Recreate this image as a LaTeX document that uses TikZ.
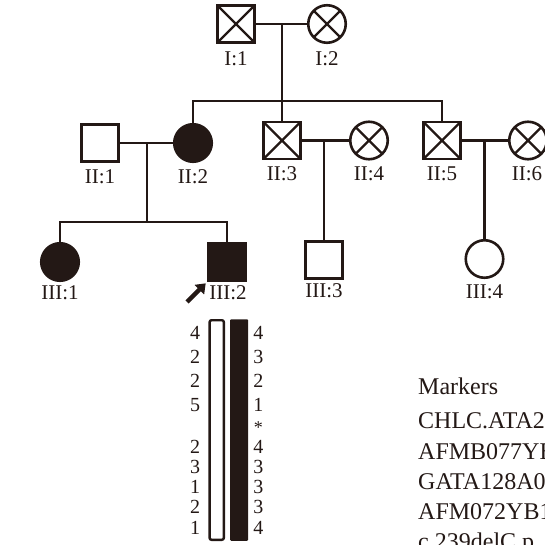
\documentclass[tikz,border=0pt]{standalone}
\usepackage{fontspec}
\setmainfont{Liberation Serif}
\usetikzlibrary{arrows.meta}
\definecolor{ink}{RGB}{35,24,21}
\tikzset{
  male/.style={rectangle, draw=ink, minimum size=37pt, inner sep=0pt, line width=2.6pt},
  female/.style={circle, draw=ink, minimum size=37.5pt, inner sep=0pt, line width=2.6pt},
  crossed/.style={path picture={\draw[ink, line width=2.2pt]
      (path picture bounding box.north west) -- (path picture bounding box.south east)
      (path picture bounding box.north east) -- (path picture bounding box.south west);}},
  affected/.style={fill=ink},
  lbl/.style={font=\fontsize{21}{21}\selectfont, text=ink, inner sep=0pt},
  hap/.style={font=\fontsize{20}{20}\selectfont, text=ink, inner sep=0pt},
  mk/.style={font=\fontsize{24}{24}\selectfont, text=ink, inner sep=0pt, anchor=base west},
  link/.style={draw=ink, line width=2.3pt}
}
\begin{document}
\begin{tikzpicture}[x=1pt, y=-1pt]
\useasboundingbox (0,0) rectangle (545,545);
\clip (0,0) rectangle (545,545);

% generation I
\node[male, crossed] (i1) at (236,24) {};
\node[female, crossed] (i2) at (327,24) {};
\node[lbl] (i1l) at (236,59) {I:1};
\node[lbl] (i2l) at (327,59) {I:2};

% generation II
\node[male] (ii1) at (100,143) {};
\node[female, affected] (ii2) at (193,143) {};
\node[male, crossed] (ii3) at (282,140.5) {};
\node[female, crossed] (ii4) at (369,140.5) {};
\node[male, crossed] (ii5) at (442,140.5) {};
\node[female, crossed] (ii6) at (528,140.5) {};
\node[lbl] (ii1l) at (100,177) {II:1};
\node[lbl] (ii2l) at (193,177) {II:2};
\node[lbl] (ii3l) at (282,173.5) {II:3};
\node[lbl] (ii4l) at (369,173.5) {II:4};
\node[lbl] (ii5l) at (442,173.5) {II:5};
\node[lbl] (ii6l) at (527,173.5) {II:6};

% generation III
\node[female, affected] (iii1) at (60,262) {};
\node[male, affected] (iii2) at (227,262) {};
\node[male] (iii3) at (324,260) {};
\node[female] (iii4) at (484.5,259) {};
\node[lbl] (iii1l) at (60,293) {III:1};
\node[lbl] (iii2l) at (228,293) {III:2};
\node[lbl] (iii3l) at (324,290.5) {III:3};
\node[lbl] (iii4l) at (484.5,291.5) {III:4};

% couples and lines of descent
\coordinate (m1) at (282,24);
\coordinate (sib2) at (282,101);
\draw[link] (i1.east) -- (i2.west);
\draw[link] (m1) -- (sib2) -- (ii3.north);
\draw[link] (ii2.north) -- (ii2.north |- sib2) -- (ii5.north |- sib2) -- (ii5.north);

\coordinate (m2) at (147,143);
\coordinate (sib3) at (147,222);
\draw[link] (ii1.east) -- (ii2.west);
\draw[link] (m2) -- (sib3);
\draw[link] (iii1.north) -- (iii1.north |- sib3) -- (iii2.north |- sib3) -- (iii2.north);

\coordinate (m3) at (324,140.5);
\draw[link] (ii3.east) -- (ii4.west);
\draw[link] (m3) -- (iii3.north);

\coordinate (m4) at (484.5,140.5);
\draw[link] (ii5.east) -- (ii6.west);
\draw[link] (m4) -- (iii4.north);

% proband pointer
\coordinate (ptr) at (187,302);
\draw[draw=ink, fill=ink, line width=4.5pt, -{Triangle[length=9pt, width=13pt]}]
  (ptr) -- ([shift={(-1.5,1.5)}]iii2.south west);

% haplotype bars
\node[draw=ink, fill=white, line width=2.4pt, rounded corners=2pt,
      minimum width=14.3pt, minimum height=219.6pt, inner sep=0pt] (barl) at (216.7,430) {};
\node[fill=ink, rounded corners=1pt, minimum width=18pt, minimum height=221.5pt,
      inner sep=0pt] (barr) at (239.2,430) {};

\foreach \v/\y [count=\i] in {4/333,2/357,2/381,5/405,2/447,3/467,1/487,2/507,1/528}
  \node[hap] (hl\i) at (195,\y) {\v};
\foreach \v/\y [count=\i] in {4/333,3/357,2/381,1/405,4/447,3/467,3/487,3/507,4/528}
  \node[hap] (hr\i) at (258.3,\y) {\v};
\node[hap, font=\fontsize{18}{18}\selectfont] (star) at (258.3,427.5) {*};

% marker list
\node[mk] (mk0) at (418,394) {Markers};
\node[mk] (mk1) at (418,428) {CHLC.ATA2};
\node[mk] (mk2) at (418,459) {AFMB077YB};
\node[mk] (mk3) at (418,489) {GATA128A0};
\node[mk] (mk4) at (418,519) {AFM072YB1};
\node[mk] (mk5) at (418,549.5) {c.239delC p.};
\end{tikzpicture}
\end{document}
